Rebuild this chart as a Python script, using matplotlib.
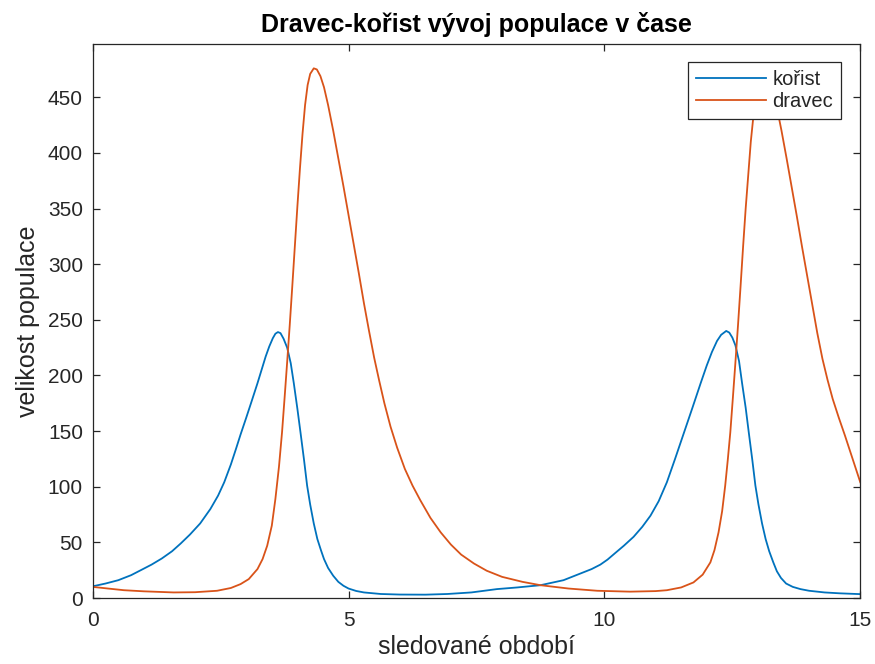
import matplotlib

matplotlib.use("Agg")
import matplotlib.pyplot as plt

plt.rcParams["font.family"] = ["Liberation Sans", "DejaVu Sans"]

# values (time, population)
T_KORIST = [0.0, 0.25, 0.5, 0.75, 0.94, 1.15, 1.35, 1.55, 1.72, 1.9, 2.1, 2.3,
            2.45, 2.57, 2.7, 2.8, 2.89, 3.0, 3.1, 3.22, 3.30, 3.38, 3.45, 3.52,
            3.57, 3.62, 3.67, 3.73, 3.80, 3.87, 3.93, 4.00, 4.06, 4.13, 4.19,
            4.25, 4.32, 4.39, 4.46, 4.52, 4.60, 4.70, 4.80, 4.90, 5.0, 5.15,
            5.3, 5.63, 6.0, 6.5, 6.93, 7.4, 7.9, 8.3, 8.75, 9.2, 9.53, 9.75,
            9.92, 10.06, 10.2, 10.38, 10.57, 10.74, 10.9, 11.06, 11.22, 11.38,
            11.55, 11.72, 11.88, 12.0, 12.1, 12.2, 12.28, 12.38, 12.44, 12.50,
            12.56, 12.63, 12.69, 12.76, 12.82, 12.89, 12.95, 13.01, 13.08,
            13.15, 13.22, 13.30, 13.37, 13.45, 13.55, 13.68, 13.83, 14.0, 14.3,
            14.6, 14.93, 15.0]
KORIST = [10.5, 13, 16, 20.5, 25, 30, 35.5, 42, 49, 57, 67, 80,
          92, 104, 120, 134, 147, 162, 176, 193, 205, 217, 226, 233.5,
          237.5, 239, 238, 233, 225, 211, 193, 170, 149, 124, 101,
          84, 67, 53, 43, 35, 27, 20, 14.5, 11, 8.5, 6.3,
          5, 3.6, 3.1, 3.0, 3.6, 5, 8, 9.5, 11.5, 16, 22, 26,
          30, 34.5, 40, 47, 55, 64, 74, 87, 104, 125,
          148, 171, 193, 209, 221, 231, 236.5, 240, 238.5, 234,
          227, 213, 193, 171, 149, 124, 101, 84, 67,
          53, 42, 32, 24, 18, 13, 10, 8, 6.5, 5,
          4.2, 3.6, 3.5]

T_DRAVEC = [0.0, 0.3, 0.61, 1.0, 1.58, 2.0, 2.43, 2.7, 2.89, 3.05, 3.22, 3.32,
            3.41, 3.50, 3.57, 3.64, 3.70, 3.75, 3.80, 3.85, 3.90, 3.95, 4.00,
            4.05, 4.10, 4.15, 4.20, 4.25, 4.32, 4.38, 4.45, 4.52, 4.60, 4.70,
            4.80, 4.90, 5.00, 5.10, 5.20, 5.30, 5.40, 5.50, 5.60, 5.70, 5.82,
            5.95, 6.10, 6.25, 6.40, 6.60, 6.80, 7.00, 7.20, 7.45, 7.70, 8.00,
            8.40, 8.75, 9.3, 9.86, 10.5, 11.0, 11.22, 11.5, 11.74, 11.92, 12.07,
            12.15, 12.23, 12.30, 12.36, 12.41, 12.46, 12.51, 12.56, 12.61,
            12.66, 12.71, 12.76, 12.81, 12.86, 12.92, 12.98, 13.03, 13.08,
            13.14, 13.21, 13.28, 13.36, 13.46, 13.56, 13.66, 13.76, 13.86,
            13.96, 14.06, 14.16, 14.26, 14.36, 14.46, 14.58, 14.70, 14.85, 15.0]
DRAVEC = [10, 8.5, 7, 6, 5, 5.2, 6.5, 9, 12.5, 17, 26, 35,
          47, 65, 89, 118, 149, 180, 212, 245, 280, 316, 352,
          386, 417, 443, 461, 471, 476, 475, 469, 459, 443, 420,
          395, 370, 344, 318, 292, 265, 240, 216, 195, 175, 154,
          135, 116, 101, 88, 72, 59, 48, 39, 31, 24.5, 19,
          14.5, 11.5, 8.5, 6.5, 5.7, 6.2, 7, 9.5, 14, 21, 32,
          43, 59, 78, 101, 124, 149, 180, 212, 245,
          280, 316, 350, 380, 410, 437, 458, 469, 476,
          475, 469, 459, 443, 420, 395, 369, 343, 316,
          290, 264, 238, 215, 196, 179, 162, 146, 125, 104]

X_TICKS = [0, 5, 10, 15]
Y_TICKS = [0, 50, 100, 150, 200, 250, 300, 350, 400, 450]

GRAY = "#262626"

fig = plt.figure(figsize=(8.75, 6.64), dpi=100)
ax = fig.add_axes([92.7 / 875, 1 - 598 / 664, 767.6 / 875, 553.7 / 664])

ax.plot(T_KORIST, KORIST, color="#0072BD", lw=1.3, label="kořist")
ax.plot(T_DRAVEC, DRAVEC, color="#D95319", lw=1.3, label="dravec")

ax.set_xlim(0, 15)
ax.set_ylim(0, 497.6)
ax.set_xticks(X_TICKS)
ax.set_yticks(Y_TICKS)
ax.tick_params(direction="in", length=5, width=0.9, colors=GRAY,
               labelsize=15, top=True, right=True)
ax.tick_params(axis="x", pad=9)
ax.tick_params(axis="y", pad=7)
for spine in ax.spines.values():
    spine.set_color(GRAY)
    spine.set_linewidth(0.9)

ax.set_xlabel("sledované období", fontsize=18, color=GRAY, labelpad=4)
ax.set_ylabel("velikost populace", fontsize=18, color=GRAY, labelpad=6)
ax.set_title("Dravec-kořist vývoj populace v čase", fontsize=18,
             fontweight="bold", color="black", pad=9)

leg = ax.legend(loc="upper right", bbox_to_anchor=(0.9749, 0.968),
                borderaxespad=0, fontsize=14.5, handlelength=3.5,
                handletextpad=0.3, borderpad=0.4, labelspacing=0.15,
                fancybox=False, framealpha=1, edgecolor=GRAY)
leg.get_frame().set_linewidth(0.9)
for txt in leg.get_texts():
    txt.set_color(GRAY)

fig.savefig("out.png", dpi=100)
